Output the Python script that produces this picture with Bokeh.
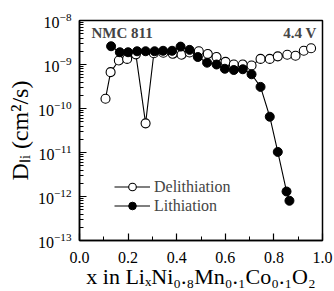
from bokeh.plotting import figure
from bokeh.models import FixedTicker, PrintfTickFormatter, Label
from bokeh.embed import file_html
from bokeh.resources import INLINE

# ---- data ----
delith_x = [0.107, 0.128, 0.162, 0.196, 0.232, 0.272, 0.306, 0.345, 0.384, 0.420,
            0.453, 0.491, 0.528, 0.564, 0.601, 0.635, 0.672, 0.708, 0.745, 0.783,
            0.816, 0.855, 0.889, 0.923, 0.953]
delith_D = [1.67e-10, 6.7e-10, 1.23e-9, 1.34e-9, 1.7e-9, 4.6e-11, 1.8e-9, 1.85e-9, 1.75e-9, 1.67e-9,
            1.88e-9, 2.0e-9, 1.73e-9, 1.48e-9, 1.15e-9, 1.0e-9, 1.0e-9, 9.5e-10, 1.34e-9, 1.34e-9,
            1.53e-9, 1.67e-9, 1.58e-9, 2.05e-9, 2.34e-9]
lith_x = [0.130, 0.166, 0.200, 0.237, 0.272, 0.309, 0.344, 0.381, 0.416, 0.453,
          0.487, 0.525, 0.564, 0.598, 0.635, 0.672, 0.708, 0.745, 0.783, 0.816,
          0.852, 0.864]
lith_D = [2.6e-9, 1.9e-9, 1.9e-9, 2.0e-9, 2.0e-9, 2.0e-9, 2.05e-9, 2.05e-9, 2.55e-9, 2.15e-9,
          1.48e-9, 1.1e-9, 1.0e-9, 8.0e-10, 7.5e-10, 7.8e-10, 6.0e-10, 3.1e-10, 6.5e-11, 1.03e-11,
          1.3e-12, 8.0e-13]
x_ticks = [0.0, 0.2, 0.4, 0.6, 0.8, 1.0]
x_minor = [0.1, 0.3, 0.5, 0.7, 0.9]
y_exps = [-13, -12, -11, -10, -9, -8]
series_names = ["Delithiation", "Lithiation"]
x_title = "x in Li\u2093Ni\u2080.\u2088Mn\u2080.\u2081Co\u2080.\u2081O\u2082"
y_title = "D\u2097\u1d62 (cm\u00b2/s)"
note_left = "NMC 811"
note_right = "4.4 V"

FONT = "Liberation Serif"

p = figure(width=334, height=291, x_range=(0, 1), y_range=(1e-13, 1e-8),
           y_axis_type="log", output_backend="svg", toolbar_location=None,
           min_border_left=79, min_border_right=12, min_border_top=20, min_border_bottom=46)
p.title.visible = False
p.grid.visible = False
p.outline_line_color = "black"
p.outline_line_width = 1.5
p.background_fill_color = "white"
p.border_fill_color = "white"

p.xaxis.ticker = FixedTicker(ticks=x_ticks, minor_ticks=x_minor)
p.xaxis.formatter = PrintfTickFormatter(format="%.1f")
yt = [10.0 ** e for e in y_exps]
ym = [k * 10.0 ** e for e in y_exps[:-1] for k in range(2, 10)]
p.yaxis.ticker = FixedTicker(ticks=yt, minor_ticks=ym)

for ax in (p.xaxis[0], p.yaxis[0]):
    ax.axis_line_width = 1.5
    ax.major_tick_in = 7
    ax.major_tick_out = 0
    ax.minor_tick_in = 4
    ax.minor_tick_out = 0
    ax.major_tick_line_width = 1.2
    ax.minor_tick_line_width = 1
    ax.major_label_text_font = FONT
    ax.major_label_text_font_size = "16px"
    ax.major_label_text_color = "black"
    ax.axis_label_text_font = FONT
    ax.axis_label_text_font_style = "normal"
    ax.axis_label_text_color = "black"
p.xaxis.major_label_standoff = 11
p.yaxis.major_label_standoff = 8
p.xaxis.axis_label = x_title
p.xaxis.axis_label_text_font_size = "22px"
p.xaxis.axis_label_standoff = -2
p.yaxis.axis_label = y_title
p.yaxis.axis_label_text_font_size = "24px"
p.yaxis.axis_label_standoff = 2

p.line(delith_x, delith_D, line_color="black", line_width=1.1, legend_label=series_names[0])
p.scatter(delith_x, delith_D, size=9, marker="circle", fill_color="white",
          line_color="black", line_width=1.1, legend_label=series_names[0])
p.line(lith_x, lith_D, line_color="black", line_width=1.1, legend_label=series_names[1])
p.scatter(lith_x, lith_D, size=9, marker="circle", fill_color="black",
          line_color="black", line_width=1, legend_label=series_names[1])

lg = p.legend[0]
lg.location = (35, 25)
lg.border_line_color = None
lg.background_fill_alpha = 0
lg.padding = 0
lg.margin = 0
lg.spacing = 0
lg.glyph_width = 36
lg.glyph_height = 19
lg.label_height = 19
lg.label_standoff = 4
lg.label_text_font = FONT
lg.label_text_font_size = "16px"

p.add_layout(Label(x=0, y=1e-8, x_offset=12, y_offset=-12, text=note_left,
                   text_font=FONT, text_font_size="15px", text_font_style="bold",
                   text_align="left", text_baseline="alphabetic"))
p.add_layout(Label(x=1, y=1e-8, x_offset=-6, y_offset=-12, text=note_right,
                   text_font=FONT, text_font_size="15px", text_font_style="bold",
                   text_align="right", text_baseline="alphabetic"))

open("out.html", "w").write(file_html(p, INLINE))
